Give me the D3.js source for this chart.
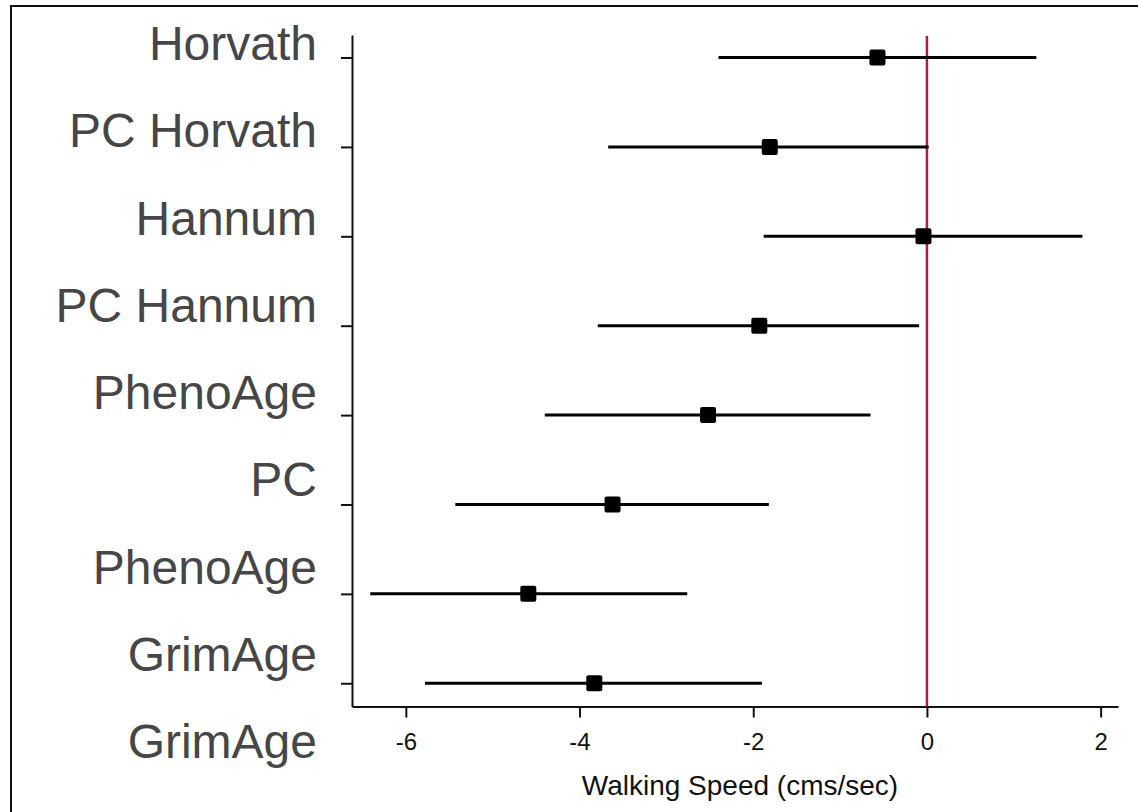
<!DOCTYPE html>
<html>
<head>
<meta charset="utf-8">
<script src="https://cdn.jsdelivr.net/npm/d3@7"></script>
<style>
  html, body { margin: 0; padding: 0; background: #fff; }
  svg { display: block; }
</style>
</head>
<body>
<script>
// Clock labels down the left margin (nine labels, eight estimate rows)
const axisLabels = ["Horvath", "PC Horvath", "Hannum", "PC Hannum", "PhenoAge", "PC", "PhenoAge", "GrimAge", "GrimAge"];
// Point estimates and 95% confidence limits, walking speed (cms/sec)
const estimate = [-0.57, -1.81, -0.04, -1.93, -2.52, -3.62, -4.59, -3.83];
const lower    = [-2.40, -3.67, -1.88, -3.79, -4.40, -5.43, -6.41, -5.78];
const upper    = [ 1.26,  0.02,  1.79, -0.09, -0.65, -1.82, -2.76, -1.90];
const xTicks = [-6, -4, -2, 0, 2];
const rowIndex = d3.range(estimate.length);
const xTitle = "Walking Speed (cms/sec)";

const W = 1138, H = 812;
const svg = d3.select("body").append("svg").attr("width", W).attr("height", H);

// outer frame
svg.append("rect")
  .attr("x", 11).attr("y", 6).attr("width", W + 20).attr("height", H + 20)
  .attr("fill", "#fff").attr("stroke", "#111").attr("stroke-width", 2);

const x = d3.scaleLinear().domain([-6.62, 2.2]).range([352, 1118]);
const y = d3.scaleLinear().domain([-0.252, 7.26]).range([35, 706.5]);
const labelY = d3.scaleLinear().domain([0, axisLabels.length - 1]).range([60, 758]);

// x axis
const gx = svg.append("g").attr("transform", `translate(0,${y.range()[1]})`)
  .call(d3.axisBottom(x).tickValues(xTicks).tickFormat(d3.format("d"))
    .tickSize(11).tickSizeOuter(0).tickPadding(15));
gx.select(".domain").attr("stroke", "#111").attr("stroke-width", 2);
gx.selectAll(".tick line").attr("stroke", "#111").attr("stroke-width", 2);
gx.selectAll(".tick text")
  .attr("font-family", "'Liberation Sans', Arial, sans-serif")
  .attr("font-size", 24).attr("fill", "#111")
  .text(d => d < 0 ? "-" + Math.abs(d) : d);

// y axis (unlabelled ticks at each estimate row)
const gy = svg.append("g").attr("transform", `translate(${x.range()[0]},0)`)
  .call(d3.axisLeft(y).tickValues(rowIndex).tickFormat("").tickSize(11).tickSizeOuter(0));
gy.select(".domain").attr("stroke", "#111").attr("stroke-width", 2);
gy.selectAll(".tick line").attr("stroke", "#111").attr("stroke-width", 2);

// axis title
svg.append("text")
  .attr("x", 740).attr("y", 795)
  .attr("text-anchor", "middle")
  .attr("font-family", "'Liberation Sans', Arial, sans-serif")
  .attr("font-size", 28).attr("fill", "#111")
  .text(xTitle);

// clock names
svg.append("g").selectAll("text").data(axisLabels).join("text")
  .attr("x", 317).attr("y", (d, i) => labelY(i))
  .attr("text-anchor", "end")
  .attr("font-family", "'Liberation Sans', Arial, sans-serif")
  .attr("font-size", 48).attr("fill", "#464646")
  .text(d => d);

// reference line at zero
svg.append("line")
  .attr("x1", x(0)).attr("x2", x(0))
  .attr("y1", 36).attr("y2", y.range()[1])
  .attr("stroke", "#b31a4b").attr("stroke-width", 2.5);

// confidence intervals
svg.append("g").selectAll("line").data(rowIndex).join("line")
  .attr("x1", i => x(lower[i])).attr("x2", i => x(upper[i]))
  .attr("y1", i => y(i)).attr("y2", i => y(i))
  .attr("stroke", "#000").attr("stroke-width", 3);

// point estimates
const sz = 16;
svg.append("g").selectAll("rect").data(rowIndex).join("rect")
  .attr("x", i => x(estimate[i]) - sz / 2).attr("y", i => y(i) - sz / 2)
  .attr("width", sz).attr("height", sz).attr("rx", 2)
  .attr("fill", "#000");
</script>
</body>
</html>
